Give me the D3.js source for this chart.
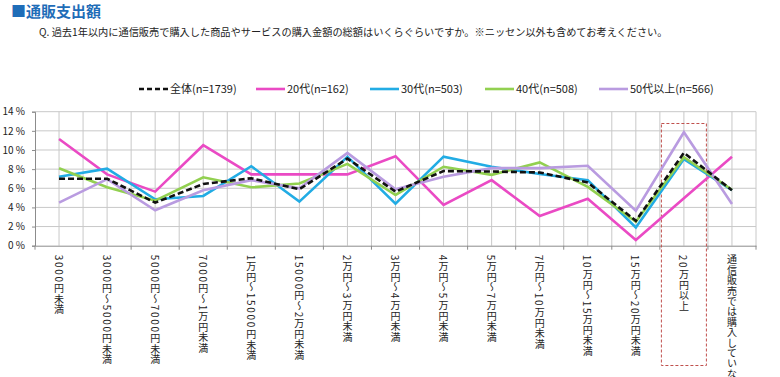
<!DOCTYPE html>
<html>
<head>
<meta charset="utf-8">
<script src="https://cdn.jsdelivr.net/npm/d3@7"></script>
<style>
  body { margin: 0; background: #fff; }
  svg { display: block; font-family: "Noto Sans CJK JP", "Noto Sans", sans-serif; }
</style>
</head>
<body>
<svg id="chart" width="780" height="377"></svg>
<script>
// Mail-order spending by age group (line chart, vertical category labels).

const categories = [
  "3000円未満",
  "3000円～5000円未満",
  "5000円～7000円未満",
  "7000円～1万円未満",
  "1万円～15000円未満",
  "15000円～2万円未満",
  "2万円～3万円未満",
  "3万円～4万円未満",
  "4万円～5万円未満",
  "5万円～7万円未満",
  "7万円～10万円未満",
  "10万円～15万円未満",
  "15万円～20万円未満",
  "20万円以上",
  "通信販売では購入していない"
];

const total = [7.0, 7.0, 4.5, 6.45, 7.05, 5.9, 9.1, 5.65, 7.8, 7.75, 7.65, 6.6, 2.6, 9.7, 5.8];
const age20 = [11.15, 7.45, 5.65, 10.5, 7.45, 7.45, 7.45, 9.35, 4.25, 6.85, 3.1, 4.9, 0.6, 4.95, 9.3];
const age30 = [7.2, 8.05, 4.85, 5.2, 8.3, 4.6, 9.3, 4.4, 9.3, 8.25, 7.5, 6.85, 1.9, 9.05, 5.8];
const age40 = [8.1, 6.1, 4.7, 7.15, 6.1, 6.5, 8.55, 5.3, 8.25, 7.4, 8.7, 6.15, 2.5, 9.25, 5.85];
const age50 = [4.5, 6.95, 3.7, 5.8, 6.85, 6.0, 9.7, 5.9, 7.2, 8.1, 8.1, 8.35, 3.65, 11.85, 4.35];

const yTicks = [0, 2, 4, 6, 8, 10, 12, 14];
const highlightCategory = "20万円以上";

const series = [
  { name: "20代(n=162)", values: age20, color: "#ea4ac4", dash: null },
  { name: "30代(n=503)", values: age30, color: "#22ace4", dash: null },
  { name: "40代(n=508)", values: age40, color: "#92d050", dash: null },
  { name: "50代以上(n=566)", values: age50, color: "#b99be0", dash: null },
  { name: "全体(n=1739)", values: total, color: "#111111", dash: "6,3" }
];
const legendOrder = ["全体(n=1739)", "20代(n=162)", "30代(n=503)", "40代(n=508)", "50代以上(n=566)"];

const svg = d3.select("#chart");
const margin = { top: 111.7, right: 24, bottom: 131.3, left: 35 };
const width = +svg.attr("width");
const height = +svg.attr("height");

const x = d3.scaleBand()
  .domain(categories)
  .range([margin.left, width - margin.right])
  .padding(0);
const cx = c => x(c) + x.bandwidth() / 2;

const y = d3.scaleLinear()
  .domain([0, 14])
  .range([height - margin.bottom, margin.top]);

// title + question
svg.append("text")
  .attr("x", 11)
  .attr("y", 17)
  .attr("fill", "#1f6db8")
  .attr("font-size", 15)
  .attr("font-weight", "bold")
  .text("■通販支出額");

svg.append("text")
  .attr("x", 39)
  .attr("y", 36)
  .attr("fill", "#222")
  .attr("font-size", 10.2)
  .text("Q. 過去1年以内に通信販売で購入した商品やサービスの購入金額の総額はいくらぐらいですか。※ニッセン以外も含めてお考えください。");

// gridlines
const grid = svg.append("g").attr("stroke", "#c8c8c8").attr("stroke-width", 1);
yTicks.filter(t => t > 0).forEach(t => {
  grid.append("line")
    .attr("x1", margin.left).attr("x2", width - margin.right)
    .attr("y1", y(t)).attr("y2", y(t));
});
const vLines = [];
categories.forEach(c => { vLines.push(x(c) + x.bandwidth()); vLines.push(cx(c)); });
vLines.forEach(v => {
  grid.append("line")
    .attr("x1", v).attr("x2", v)
    .attr("y1", y(14)).attr("y2", y(0));
});

// axes
const yAxis = svg.append("g")
  .attr("transform", `translate(${margin.left},0)`)
  .call(d3.axisLeft(y).tickValues(yTicks).tickSize(3).tickPadding(7).tickFormat(d => d + " %"));
yAxis.selectAll("path, line").attr("stroke", "#8c8c8c");
yAxis.selectAll("text").attr("font-size", 10).attr("fill", "#222")
  .attr("font-family", "'Noto Sans CJK JP', sans-serif");

const xAxis = svg.append("g")
  .attr("transform", `translate(0,${y(0)})`)
  .call(d3.axisBottom(x).tickSize(0).tickFormat(""));
xAxis.select("path").attr("stroke", "#8c8c8c");
categories.concat([null]).forEach(c => {
  const v = c ? x(c) : width - margin.right;
  xAxis.append("line").attr("x1", v).attr("x2", v).attr("y1", 0).attr("y2", 4).attr("stroke", "#8c8c8c");
});

// vertical category labels: digits run sideways and get extra spacing
const labels = svg.append("g")
  .selectAll("text")
  .data(categories)
  .join("text")
  .attr("x", d => cx(d))
  .attr("y", y(0) + 9)
  .attr("font-size", 10)
  .attr("fill", "#222")
  .style("writing-mode", "vertical-rl")
  .style("text-orientation", "mixed");

labels.each(function(d) {
  const t = d3.select(this);
  d.match(/[0-9]+|[^0-9]+/g).forEach(run => {
    const digits = /[0-9]/.test(run);
    t.append("tspan")
      .style("letter-spacing", digits ? "1.7px" : "0.4px")
      .text(run);
  });
});

// highlight box
svg.append("rect")
  .attr("x", cx(highlightCategory) - 22.5)
  .attr("y", 123.5)
  .attr("width", 45)
  .attr("height", 242)
  .attr("fill", "none")
  .attr("stroke", "#c0504d")
  .attr("stroke-width", 1)
  .attr("stroke-dasharray", "3,2");

// lines
const line = d3.line()
  .x((d, i) => cx(categories[i]))
  .y(d => y(d));

svg.append("g")
  .selectAll("path")
  .data(series)
  .join("path")
  .attr("d", d => line(d.values))
  .attr("fill", "none")
  .attr("stroke", d => d.color)
  .attr("stroke-width", 2.6)
  .attr("stroke-linejoin", "miter")
  .attr("stroke-dasharray", d => d.dash);

// legend
const legendX = [139, 256, 370, 485, 599];
const legend = svg.append("g");
legendOrder.forEach((name, i) => {
  const s = series.find(d => d.name === name);
  const gItem = legend.append("g").attr("transform", `translate(${legendX[i]},89)`);
  gItem.append("line")
    .attr("x1", 0).attr("x2", 29)
    .attr("stroke", s.color)
    .attr("stroke-width", 2.6)
    .attr("stroke-dasharray", s.dash ? "5,3" : null);
  gItem.append("text")
    .attr("x", 31)
    .attr("dy", "0.35em")
    .attr("font-size", 11)
    .attr("fill", "#222")
    .text(name);
});
</script>
</body>
</html>
